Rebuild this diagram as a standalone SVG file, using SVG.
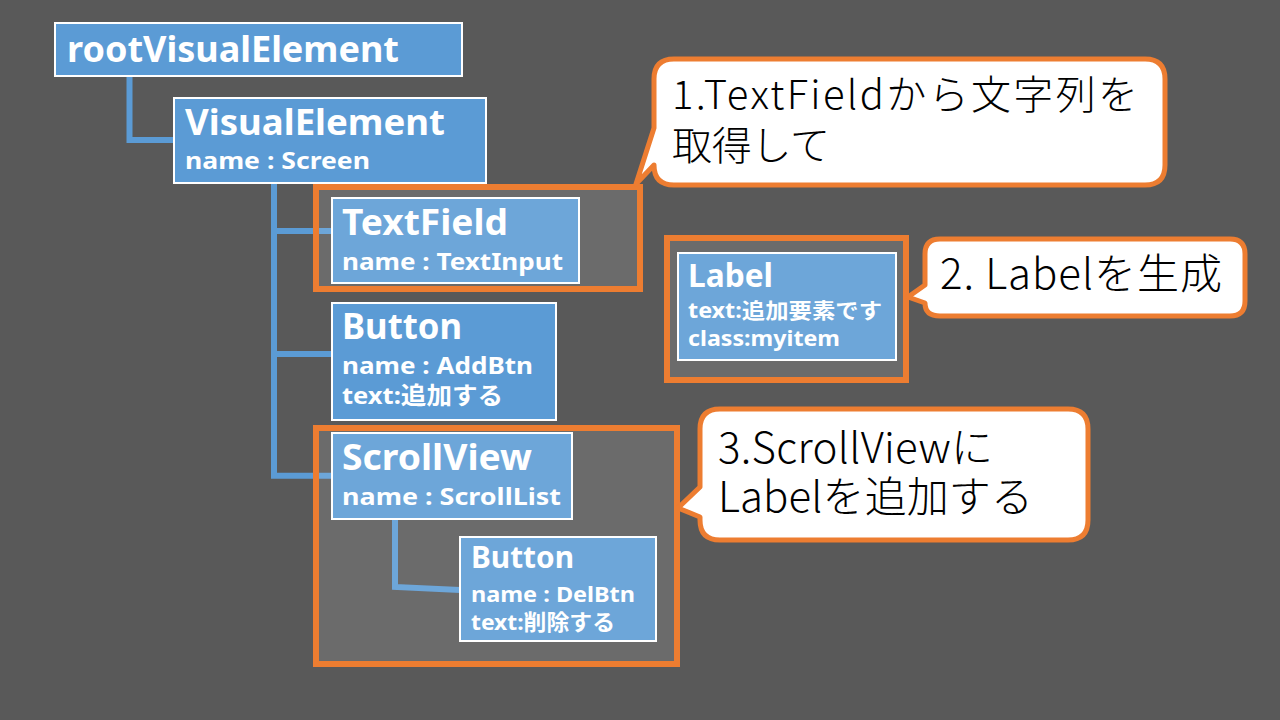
<svg xmlns="http://www.w3.org/2000/svg" width="1280" height="720" viewBox="0 0 1280 720">
<style>
.node rect{fill:#5B9BD5;stroke:#FFFFFF;stroke-width:2}
.t{font-family:"Noto Sans","Noto Sans CJK JP",sans-serif;font-weight:bold;fill:#FFFFFF}
.conn path{fill:none;stroke:#5B9BD5;stroke-width:6;stroke-linejoin:miter}
.hl{fill:#FFFFFF;fill-opacity:0.11;stroke:#ED7D31;stroke-width:6}
.callout path{fill:#FFFFFF;stroke:#ED7D31;stroke-width:5;stroke-linejoin:round}
.ct{font-family:"Noto Sans CJK JP","Noto Sans",sans-serif;font-weight:300;fill:#000000}
</style>
<rect x="0" y="0" width="1280" height="720" fill="#595959"/>
<g id="connectors" class="conn">
<path d="M129.5 77 V140 H174"/>
<path d="M274 184 V475.7 H332"/>
<path d="M274 231 H332"/>
<path d="M274 354 H332"/>
<path d="M395 520 V587 L460 590"/>
</g>
<g id="root" class="node">
<rect x="55" y="23" width="407" height="53"/>
<text class="t" x="67" y="62" font-size="35" textLength="332" lengthAdjust="spacingAndGlyphs">rootVisualElement</text>
</g>
<g id="visualelement" class="node">
<rect x="174" y="98" width="312" height="85"/>
<text class="t" x="185" y="135" font-size="35" textLength="260" lengthAdjust="spacingAndGlyphs">VisualElement</text>
<text class="t" x="185" y="169" font-size="24" textLength="185" lengthAdjust="spacingAndGlyphs">name : Screen</text>
</g>
<g id="textfield" class="node">
<rect x="332" y="198" width="247" height="85"/>
<text class="t" x="342" y="235" font-size="35" textLength="166" lengthAdjust="spacingAndGlyphs">TextField</text>
<text class="t" x="342" y="270" font-size="24" textLength="221" lengthAdjust="spacingAndGlyphs">name : TextInput</text>
</g>
<g id="addbtn" class="node">
<rect x="332" y="303" width="224" height="117"/>
<text class="t" x="342" y="339" font-size="35" textLength="120" lengthAdjust="spacingAndGlyphs">Button</text>
<text class="t" x="342" y="374" font-size="24" textLength="191" lengthAdjust="spacingAndGlyphs">name : AddBtn</text>
<text class="t" x="342" y="404" font-size="24" textLength="161" lengthAdjust="spacingAndGlyphs">text:追加する</text>
</g>
<g id="scrollview" class="node">
<rect x="332" y="433" width="240" height="86"/>
<text class="t" x="342" y="470" font-size="35" textLength="190" lengthAdjust="spacingAndGlyphs">ScrollView</text>
<text class="t" x="342" y="505" font-size="24" textLength="219" lengthAdjust="spacingAndGlyphs">name : ScrollList</text>
</g>
<g id="delbtn" class="node">
<rect x="460" y="537" width="196" height="104"/>
<text class="t" x="471" y="568" font-size="30" textLength="103" lengthAdjust="spacingAndGlyphs">Button</text>
<text class="t" x="471" y="602" font-size="22" textLength="164" lengthAdjust="spacingAndGlyphs">name : DelBtn</text>
<text class="t" x="471" y="630" font-size="22" textLength="144" lengthAdjust="spacingAndGlyphs">text:削除する</text>
</g>
<g id="label" class="node">
<rect x="678" y="253" width="218" height="107"/>
<text class="t" x="688" y="287" font-size="32" textLength="85" lengthAdjust="spacingAndGlyphs">Label</text>
<text class="t" x="688" y="318" font-size="21" textLength="194" lengthAdjust="spacingAndGlyphs">text:追加要素です</text>
<text class="t" x="688" y="346" font-size="21" textLength="152" lengthAdjust="spacingAndGlyphs">class:myitem</text>
</g>
<g id="highlights">
<rect class="hl" x="316" y="187" width="324" height="102"/>
<rect class="hl" x="667" y="238" width="239" height="142"/>
<rect class="hl" x="316" y="428" width="361" height="236"/>
</g>
<g id="callout1" class="callout">
<path d="M674 59 H1145 Q1165 59 1165 79 V165 Q1165 185 1145 185 H674 Q654 185 654 165 L636 184 L654 128 V79 Q654 59 674 59 Z"/>
<text class="ct" font-size="40"><tspan x="672" y="109" textLength="466" lengthAdjust="spacing">1.TextFieldから文字列を</tspan><tspan x="672" y="160" textLength="158" lengthAdjust="spacing">取得して</tspan></text>
</g>
<g id="callout2" class="callout">
<path d="M940 239 H1230 Q1245 239 1245 254 V301 Q1245 316 1230 316 H940 Q925 316 925 303 L908 297 L925 285 V254 Q925 239 940 239 Z"/>
<text class="ct" x="940" y="289" font-size="42" textLength="282" lengthAdjust="spacing">2. Labelを生成</text>
</g>
<g id="callout3" class="callout">
<path d="M720 409 H1068 Q1088 409 1088 429 V520 Q1088 540 1068 540 H720 Q700 540 700 520 V517 L678 508 L700 487 V429 Q700 409 720 409 Z"/>
<text class="ct" font-size="42"><tspan x="718" y="463" textLength="275" lengthAdjust="spacing">3.ScrollViewに</tspan><tspan x="718" y="512" textLength="315" lengthAdjust="spacing">Labelを追加する</tspan></text>
</g>
</svg>
